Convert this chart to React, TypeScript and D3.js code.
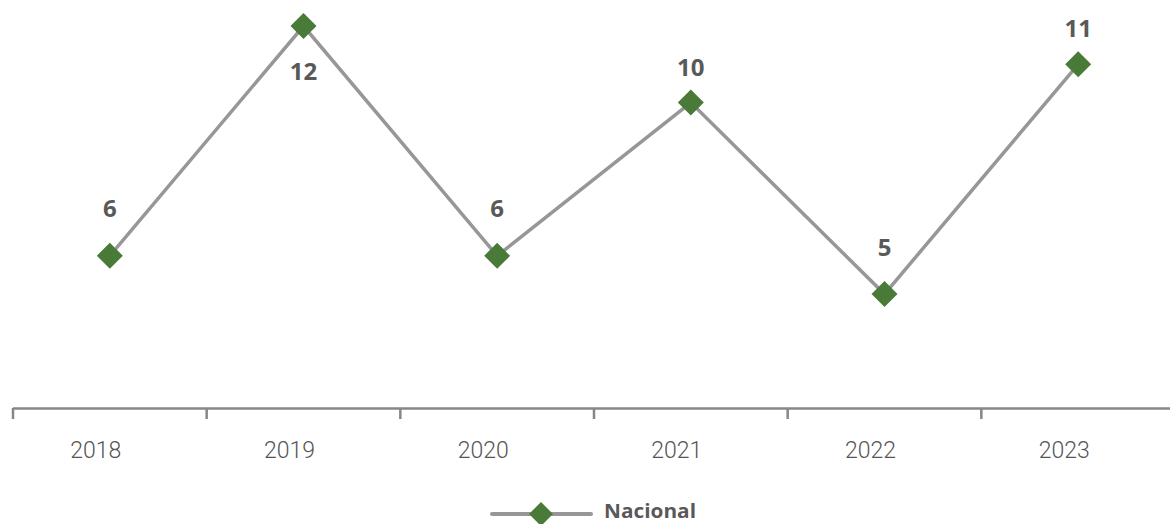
import React from "react";
import * as d3 from "d3";

const categories = ["2018", "2019", "2020", "2021", "2022", "2023"];
const values = [6, 12, 6, 10, 5, 11];
const labelPlacement = ["above", "below", "above", "above", "above", "above"];
const labelGap = [48, 44, 48, 36, 48, 37];
const seriesName = "Nacional";

const W = 1170;
const H = 524;

export default function App() {
  const x = d3.scaleBand<string>().domain(categories).range([13, 1175]).padding(0);
  const y = d3.scaleLinear().domain([2, 12]).range([409, 26]);
  const cx = (c: string) => (x(c) as number) + x.bandwidth() / 2;
  const line = d3
    .line<number>()
    .x((_, i) => cx(categories[i]))
    .y((v) => y(v));
  const diamond = (px: number, py: number, r: number) =>
    `M${px},${py - r}L${px + r},${py}L${px},${py + r}L${px - r},${py}Z`;
  const lineColor = "#979797";
  const markColor = "#4a7a37";
  const textColor = "#595959";
  const tickPositions = categories.map((c) => x(c) as number);

  return (
    <svg
      width={W}
      height={H}
      style={{ position: "absolute", left: 0, top: 0, background: "#fff" }}
    >
      <line x1={13} x2={W} y1={408.5} y2={408.5} stroke="#878787" strokeWidth={2.5} />
      {tickPositions.map((t, i) => (
        <line key={i} x1={t} x2={t} y1={408} y2={419} stroke="#878787" strokeWidth={2.5} />
      ))}
      {categories.map((c) => (
        <text
          key={c}
          x={cx(c) - 14}
          y={450}
          dominantBaseline="central"
          textAnchor="middle"
          fontFamily="Roboto"
          fontWeight={300}
          fontSize={23}
          fill="#555555"
        >
          {c}
        </text>
      ))}
      <path d={line(values) || ""} fill="none" stroke={lineColor} strokeWidth={3.5} />
      {values.map((v, i) => (
        <path key={i} d={diamond(cx(categories[i]), y(v), 13)} fill={markColor} />
      ))}
      {values.map((v, i) => (
        <text
          key={"l" + i}
          x={cx(categories[i])}
          y={labelPlacement[i] === "above" ? y(v) - labelGap[i] : y(v) + labelGap[i]}
          dominantBaseline="central"
          textAnchor="middle"
          fontFamily="Open Sans"
          fontWeight={700}
          fontSize={24}
          fill={textColor}
        >
          {v}
        </text>
      ))}
      <g>
        <line x1={492} x2={591} y1={514} y2={514} stroke={lineColor} strokeWidth={4} strokeLinecap="round" />
        <path d={diamond(541, 514, 12)} fill={markColor} />
        <text
          x={604}
          y={511}
          dominantBaseline="central"
          fontFamily="Open Sans"
          fontWeight={700}
          fontSize={19}
          textLength={92}
          lengthAdjust="spacingAndGlyphs"
          fill={textColor}
        >
          {seriesName}
        </text>
      </g>
    </svg>
  );
}
